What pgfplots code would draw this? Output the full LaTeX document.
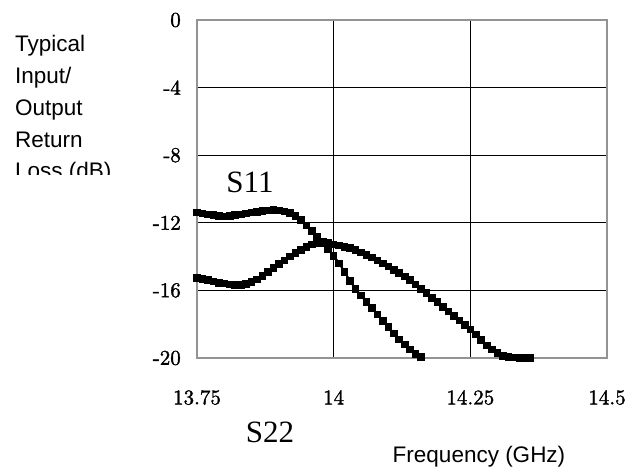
\documentclass[border=0pt]{standalone}
\usepackage{fontspec}
\usepackage{pgfplots}
\usepackage{pgfplotstable}
\pgfplotsset{compat=1.18}
\newfontfamily\arial{Liberation Sans}
\newfontfamily\tnr{Liberation Serif}
\newfontfamily\lmr[Extension=.otf, FakeBold=1.5]{lmroman10-regular}

\pgfplotstableread{
f db
13.75 -11.40
13.76 -11.45
13.77 -11.50
13.78 -11.55
13.79 -11.60
13.80 -11.62
13.81 -11.60
13.82 -11.55
13.83 -11.50
13.84 -11.45
13.85 -11.40
13.86 -11.35
13.87 -11.30
13.88 -11.27
13.89 -11.25
13.90 -11.27
13.91 -11.32
13.92 -11.42
13.93 -11.60
13.94 -11.85
13.95 -12.15
13.96 -12.50
13.97 -12.85
13.98 -13.20
13.99 -13.55
14.00 -13.95
14.01 -14.40
14.02 -14.90
14.03 -15.45
14.04 -15.90
14.05 -16.30
14.06 -16.70
14.07 -17.05
14.08 -17.42
14.09 -17.80
14.10 -18.15
14.11 -18.55
14.12 -18.90
14.13 -19.20
14.14 -19.50
14.15 -19.75
14.16 -19.95
}\sOneOne

\pgfplotstableread{
f db
13.75 -15.25
13.76 -15.32
13.77 -15.40
13.78 -15.48
13.79 -15.55
13.80 -15.60
13.81 -15.65
13.82 -15.68
13.83 -15.68
13.84 -15.62
13.85 -15.50
13.86 -15.35
13.87 -15.15
13.88 -14.92
13.89 -14.68
13.90 -14.45
13.91 -14.22
13.92 -14.00
13.93 -13.80
13.94 -13.60
13.95 -13.42
13.96 -13.28
13.97 -13.18
13.98 -13.15
13.99 -13.20
14.00 -13.28
14.01 -13.35
14.02 -13.42
14.03 -13.50
14.04 -13.62
14.05 -13.75
14.06 -13.90
14.07 -14.05
14.08 -14.22
14.09 -14.40
14.10 -14.58
14.11 -14.78
14.12 -14.98
14.13 -15.18
14.14 -15.40
14.15 -15.65
14.16 -15.90
14.17 -16.15
14.18 -16.45
14.19 -16.70
14.20 -16.98
14.21 -17.25
14.22 -17.50
14.23 -17.78
14.24 -18.05
14.25 -18.32
14.26 -18.62
14.27 -18.95
14.28 -19.25
14.29 -19.50
14.30 -19.72
14.31 -19.88
14.32 -19.95
14.33 -19.98
14.34 -20.00
14.35 -20.00
14.36 -20.00
}\sTwoTwo

\newcommand{\tl}[1]{\mbox{\lmr\fontsize{21}{25}\selectfont #1}}

\begin{document}
\begin{tikzpicture}[x=1pt,y=1pt]
\useasboundingbox (-197,-116) rectangle (440,358);
\begin{axis}[
  at={(0,0)}, anchor=south west,
  scale only axis, width=410pt, height=338pt,
  xmin=13.75, xmax=14.5, ymin=-20, ymax=0,
  xtick={13.75,14,14.25,14.5},
  xticklabels={\tl{13.75},\tl{14},\tl{14.25},\tl{14.5}},
  ytick={-20,-16,-12,-8,-4,0},
  yticklabels={\tl{-20},\tl{-16},\tl{-12},\tl{-8},\tl{-4},\tl{0}},
  major tick length=0pt,
  grid=major,
  major grid style={black, line width=0.8pt},
  axis line style={gray!85, line width=1.6pt},
  tick label style={inner sep=0pt},
  xticklabel style={anchor=north, yshift=-32pt},
  yticklabel style={anchor=east, xshift=-16pt},
]
\addplot[black, line width=2pt, mark=square*, mark size=2.8pt] table[x=f,y=db] {\sOneOne};
\addplot[black, line width=2pt, mark=square*, mark size=2.8pt] table[x=f,y=db] {\sTwoTwo};
\end{axis}
\node[font=\tnr\fontsize{31}{36}\selectfont] at (53,176) {S11};
\node[font=\tnr\fontsize{31}{36}\selectfont] at (73,-74) {S22};
\node[font=\arial\fontsize{22.5}{27}\selectfont] at (282,-99) {Frequency (GHz)};
\begin{scope}
\clip (-197,183) rectangle (-20,358);
\node[font=\arial\fontsize{22.5}{27}\selectfont, anchor=base west, inner sep=0pt] at (-182,306) {Typical};
\node[font=\arial\fontsize{22.5}{27}\selectfont, anchor=base west, inner sep=0pt] at (-182,274) {Input/};
\node[font=\arial\fontsize{22.5}{27}\selectfont, anchor=base west, inner sep=0pt] at (-182,242) {Output};
\node[font=\arial\fontsize{22.5}{27}\selectfont, anchor=base west, inner sep=0pt] at (-182,210) {Return};
\node[font=\arial\fontsize{22.5}{27}\selectfont, anchor=base west, inner sep=0pt] at (-182,179) {Loss (dB)};
\end{scope}
\end{tikzpicture}
\end{document}
